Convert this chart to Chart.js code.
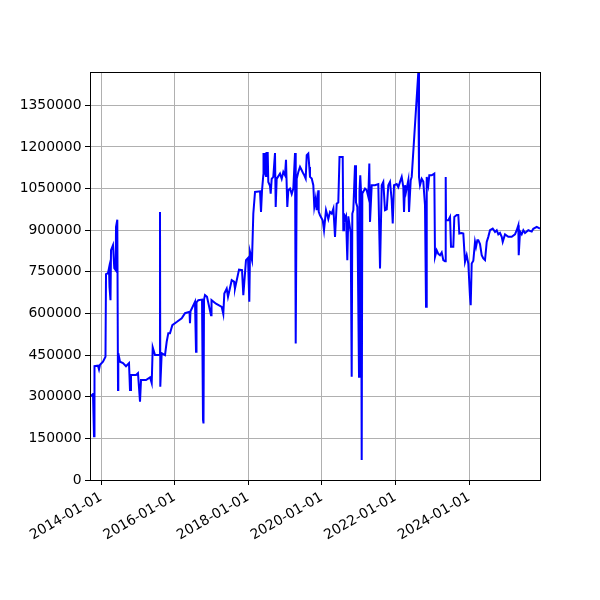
<!DOCTYPE html>
<html>
<head>
<meta charset="utf-8">
<script src="https://cdn.jsdelivr.net/npm/chart.js@4/dist/chart.umd.min.js"></script>
<style>
  body { margin: 0; background: #fff; }
  #wrap { width: 600px; height: 600px; }
</style>
</head>
<body>
<div id="wrap"><canvas id="chart" width="600" height="600"></canvas></div>
<script>
// dates as decimal years
var years = [
  2013.701, 2013.783, 2013.810, 2013.823, 2013.918, 2013.946, 2013.973, 2014.054, 2014.122, 2014.136,
  2014.190, 2014.217, 2014.231, 2014.258, 2014.272, 2014.326, 2014.361, 2014.399, 2014.408, 2014.443,
  2014.462, 2014.470, 2014.516, 2014.598, 2014.679, 2014.761, 2014.788, 2014.815, 2014.951, 2015.005,
  2015.060, 2015.087, 2015.223, 2015.332, 2015.378, 2015.405, 2015.467, 2015.590, 2015.603, 2015.611,
  2015.649, 2015.739, 2015.785, 2015.829, 2015.875, 2015.938, 2016.065, 2016.193, 2016.283, 2016.405,
  2016.418, 2016.432, 2016.554, 2016.582, 2016.595, 2016.644, 2016.745, 2016.772, 2016.785, 2016.799,
  2016.826, 2016.880, 2016.989, 2017.003, 2017.125, 2017.280, 2017.323, 2017.351, 2017.416, 2017.451,
  2017.552, 2017.614, 2017.641, 2017.750, 2017.832, 2017.867, 2017.940, 2017.995, 2018.030, 2018.049,
  2018.103, 2018.139, 2018.185, 2018.321, 2018.348, 2018.375, 2018.410, 2018.416, 2018.443, 2018.457,
  2018.484, 2018.497, 2018.530, 2018.546, 2018.592, 2018.611, 2018.638, 2018.682, 2018.728, 2018.747,
  2018.774, 2018.864, 2018.910, 2018.954, 2019.000, 2019.027, 2019.062, 2019.090, 2019.136, 2019.182,
  2019.226, 2019.272, 2019.291, 2019.318, 2019.362, 2019.408, 2019.454, 2019.497, 2019.524, 2019.562,
  2019.590, 2019.633, 2019.660, 2019.679, 2019.726, 2019.769, 2019.796, 2019.834, 2019.861, 2019.905,
  2019.916, 2019.951, 2020.024, 2020.060, 2020.087, 2020.114, 2020.177, 2020.223, 2020.269, 2020.315,
  2020.359, 2020.405, 2020.448, 2020.481, 2020.568, 2020.584, 2020.603, 2020.630, 2020.658, 2020.693,
  2020.720, 2020.785, 2020.812, 2020.829, 2020.856, 2020.902, 2020.929, 2020.965, 2021.011, 2021.024,
  2021.045, 2021.065, 2021.084, 2021.101, 2021.174, 2021.220, 2021.264, 2021.291, 2021.310, 2021.356,
  2021.446, 2021.535, 2021.582, 2021.628, 2021.671, 2021.717, 2021.764, 2021.807, 2021.853, 2021.899,
  2021.927, 2021.962, 2022.035, 2022.079, 2022.125, 2022.171, 2022.215, 2022.234, 2022.261, 2022.288,
  2022.351, 2022.370, 2022.416, 2022.443, 2022.622, 2022.641, 2022.668, 2022.715, 2022.758, 2022.804,
  2022.832, 2022.851, 2022.894, 2022.921, 2022.986, 2023.057, 2023.076, 2023.122, 2023.166, 2023.212,
  2023.258, 2023.302, 2023.348, 2023.367, 2023.375, 2023.438, 2023.484, 2023.511, 2023.573, 2023.601,
  2023.666, 2023.709, 2023.736, 2023.802, 2023.845, 2023.891, 2023.937, 2023.981, 2024.027, 2024.046,
  2024.073, 2024.117, 2024.163, 2024.190, 2024.226, 2024.253, 2024.299, 2024.345, 2024.389, 2024.435,
  2024.481, 2024.524, 2024.571, 2024.644, 2024.707, 2024.753, 2024.796, 2024.842, 2024.889, 2024.916,
  2024.978, 2025.068, 2025.160, 2025.250, 2025.296, 2025.340, 2025.351, 2025.386, 2025.432, 2025.476,
  2025.522, 2025.611, 2025.704, 2025.747, 2025.840, 2025.929
];

var amounts = [
  300000, 310000, 158000, 410000, 412000, 398000, 415000, 426000, 444000, 742000,
  745000, 763000, 696000, 648000, 828000, 846000, 763000, 756000, 912000, 938000,
  324000, 457000, 426000, 421000, 410000, 421000, 324000, 378000, 378000, 385000,
  282000, 360000, 360000, 370000, 349000, 478000, 450000, 450000, 966000, 336000,
  457000, 450000, 498000, 529000, 529000, 558000, 570000, 583000, 601000, 606000,
  565000, 608000, 642000, 462000, 640000, 648000, 650000, 216000, 204000, 650000,
  666000, 660000, 594000, 648000, 635000, 624000, 598000, 672000, 690000, 660000,
  720000, 715000, 690000, 758000, 756000, 666000, 792000, 800000, 642000, 822000,
  792000, 960000, 1038000, 1040000, 966000, 1042000, 1098000, 1178000, 1100000, 1178000,
  1095000, 1178000, 1178000, 1074000, 1060000, 1032000, 1085000, 1092000, 1178000, 984000,
  1085000, 1104000, 1085000, 1110000, 1098000, 1154000, 984000, 1044000, 1050000, 1030000,
  1050000, 1178000, 492000, 1085000, 1110000, 1128000, 1116000, 1104000, 1098000, 1086000,
  1170000, 1176000, 1128000, 1092000, 1086000, 1062000, 984000, 1014000, 972000, 1044000,
  966000, 954000, 936000, 900000, 936000, 972000, 940000, 966000, 960000, 978000,
  876000, 996000, 1000000, 1164000, 1164000, 900000, 960000, 940000, 950000, 792000,
  950000, 891000, 372000, 960000, 972000, 1134000, 1000000, 984000, 372000, 1040000,
  1098000, 1040000, 72000, 1032000, 1050000, 1044000, 1020000, 1140000, 930000, 1062000,
  1062000, 1066000, 762000, 1062000, 1074000, 972000, 975000, 1062000, 1074000, 1008000,
  924000, 1062000, 1066000, 1055000, 1074000, 1092000, 1055000, 966000, 1062000, 1038000,
  1080000, 966000, 1080000, 1092000, 1468000, 1092000, 1062000, 1085000, 1075000, 990000,
  624000, 1092000, 1062000, 1098000, 1098000, 1104000, 804000, 828000, 815000, 810000,
  820000, 792000, 788000, 1092000, 936000, 936000, 948000, 840000, 840000, 948000,
  955000, 955000, 888000, 890000, 888000, 786000, 810000, 780000, 660000, 630000,
  780000, 790000, 858000, 840000, 864000, 864000, 850000, 810000, 798000, 792000,
  858000, 876000, 900000, 906000, 894000, 900000, 885000, 890000, 876000, 858000,
  885000, 876000, 876000, 885000, 900000, 918000, 810000, 895000, 885000, 900000,
  890000, 900000, 895000, 905000, 912000, 906000
];

var xTickYears = [2014, 2016, 2018, 2020, 2022, 2024];
var xTickLabels = ['2014-01-01', '2016-01-01', '2018-01-01', '2020-01-01', '2022-01-01', '2024-01-01'];
var yTicks = [0, 150000, 300000, 450000, 600000, 750000, 900000, 1050000, 1200000, 1350000];

var points = [];
for (var i = 0; i < years.length; i++) {
  points.push({x: years[i], y: amounts[i]});
}

// box around the plot, like the matplotlib spines
var frame = {
  id: 'frame',
  afterDraw: function(chart) {
    var a = chart.chartArea;
    var ctx = chart.ctx;
    ctx.save();
    ctx.strokeStyle = '#000';
    ctx.lineWidth = 1;
    ctx.strokeRect(a.left + 0.5, a.top + 0.5, a.right - a.left, a.bottom - a.top);
    ctx.restore();
  }
};

Chart.defaults.font.family = 'DejaVu Sans';
Chart.defaults.font.size = 13.9;
Chart.defaults.color = '#000';

new Chart(document.getElementById('chart'), {
  type: 'line',
  data: {
    datasets: [{
      data: points,
      borderColor: '#0000ff',
      borderWidth: 2,
      pointRadius: 0,
      fill: false,
      tension: 0
    }]
  },
  options: {
    responsive: false,
    animation: false,
    devicePixelRatio: 1,
    layout: { padding: { top: 72, right: 60, left: 0, bottom: 0 } },
    plugins: { legend: { display: false }, tooltip: { enabled: false } },
    scales: {
      x: {
        type: 'linear',
        min: 2013.701,
        max: 2025.929,
        afterBuildTicks: function(scale) {
          scale.ticks = xTickYears.map(function(v) { return {value: v}; });
        },
        afterFit: function(scale) { scale.height = 120; },
        ticks: {
          minRotation: 30,
          maxRotation: 30,
          padding: 4,
          callback: function(v) {
            var k = xTickYears.indexOf(v);
            return k >= 0 ? xTickLabels[k] : '';
          }
        },
        grid: { color: '#b0b0b0', lineWidth: 1, tickLength: 5, tickColor: '#000' },
        border: { color: '#000', width: 1 }
      },
      y: {
        min: 0,
        max: 1470000,
        afterBuildTicks: function(scale) {
          scale.ticks = yTicks.map(function(v) { return {value: v}; });
        },
        afterFit: function(scale) { scale.width = 90; },
        ticks: {
          padding: 3.5,
          callback: function(v) { return String(v); }
        },
        grid: { color: '#b0b0b0', lineWidth: 1, tickLength: 5, tickColor: '#000' },
        border: { color: '#000', width: 1 }
      }
    }
  },
  plugins: [frame]
});
</script>
</body>
</html>
